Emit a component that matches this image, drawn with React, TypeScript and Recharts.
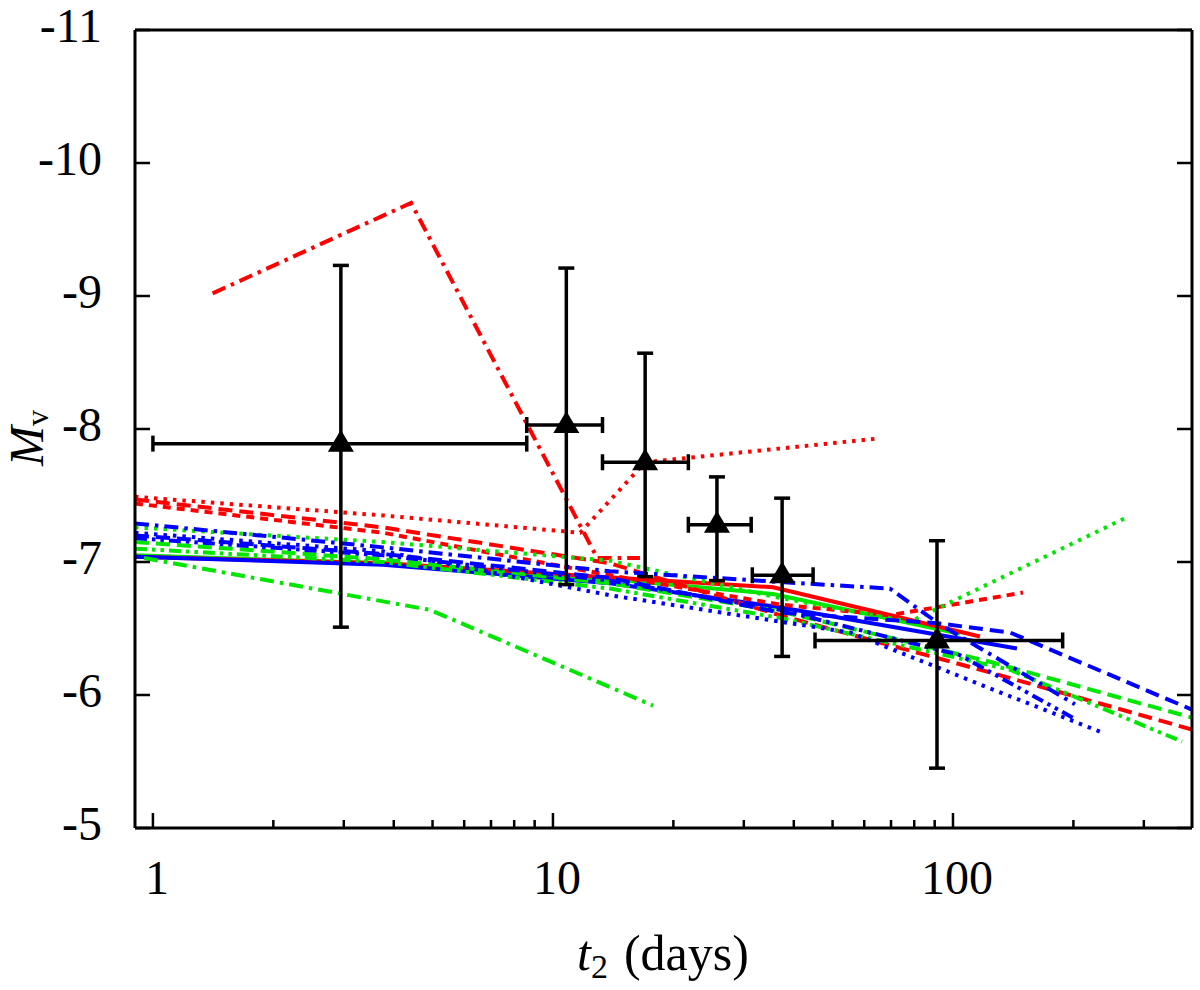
import React from 'react'
import { ComposedChart, Line, Scatter, ErrorBar, XAxis, YAxis, Label } from 'recharts'

const SERIF = '"Liberation Serif", "DejaVu Serif", serif'
const RED = '#ff0000'
const GREEN = '#00e600'
const BLUE = '#0000ff'

// axis ticks
const xMajor = [1, 10, 100]
const xTicks = [1, 2, 3, 4, 5, 6, 7, 8, 9, 10, 20, 30, 40, 50, 60, 70, 80, 90, 100, 200, 300]
const yTicks = [-11, -10, -9, -8, -7, -6, -5]

// observed points: t2 (days), M_V and their ranges
const obsT2 = [2.95, 10.8, 17.0, 25.7, 37.4, 91.2]
const obsMv = [-7.89, -8.03, -7.75, -7.28, -6.9, -6.41]
const obsT2Lo = [1.0, 8.6, 13.3, 21.8, 31.5, 45.2]
const obsT2Hi = [8.6, 13.3, 21.8, 31.3, 44.7, 188]
const obsMvBright = [-9.23, -9.21, -8.57, -7.64, -7.48, -7.16]
const obsMvFaint = [-6.51, -6.83, -6.89, -6.86, -6.29, -5.45]

// model tracks [t2, M_V]
const redSolid = [[0.902, -7.04], [3.76, -6.99], [13.1, -6.89], [35.5, -6.81], [116.8, -6.44]]
const redLongDash = [[0.902, -7.47], [3.76, -7.26], [13.9, -6.99], [36.9, -6.6], [123.7, -6.17], [395.8, -5.74]]
const redShortDash = [[0.902, -7.44], [3.76, -7.22], [13.9, -6.9], [36.9, -6.68], [69.6, -6.6], [149.6, -6.77]]
const redDotted = [[0.902, -7.49], [3.76, -7.35], [11.7, -7.22], [17.0, -7.75], [65.7, -7.93]]
const redDashDot = [[1.41, -9.02], [4.42, -9.7], [12.9, -7.03], [16.5, -7.03]]

const greenSolid = [[0.902, -7.05], [3.76, -6.99], [13.9, -6.87], [35.5, -6.76], [104, -6.46]]
const greenDashed = [[0.902, -7.15], [3.76, -7.02], [13.9, -6.84], [36.9, -6.63], [123.7, -6.25], [395.8, -5.83]]
const greenDotted = [[0.902, -7.26], [3.76, -7.15], [13.9, -7.01], [36.9, -6.73], [78, -6.55], [273.8, -7.34]]
const greenDotDash = [[0.902, -7.1], [3.76, -7.0], [13.9, -6.8], [36.9, -6.58], [138.8, -6.19], [373.7, -5.65]]
const greenDashDot = [[0.95, -7.03], [4.93, -6.64], [17.8, -5.92]]

const blueSolid = [[0.902, -7.04], [3.76, -6.98], [13.9, -6.84], [36.9, -6.66], [144.5, -6.35]]
const blueLongDash = [[0.902, -7.2], [3.76, -7.06], [13.9, -6.88], [36.9, -6.62], [91.2, -6.54], [138.8, -6.47], [395.8, -5.89]]
const blueDotted = [[0.902, -7.22], [3.76, -7.08], [13.9, -6.75], [55.3, -6.47], [123.7, -6.05], [239.9, -5.71]]
const blueDashDotDot = [[0.902, -7.18], [3.76, -7.05], [13.9, -6.86], [36.9, -6.64], [104, -6.3], [201.8, -5.82]]
const blueDashDot = [[0.902, -7.29], [3.76, -7.11], [13.9, -6.93], [36.9, -6.85], [69.6, -6.8], [92.8, -6.53], [201.8, -5.93]]

const DASH = {
  solid: undefined,
  long: '14 7',
  short: '8 6',
  dot: '3.5 6',
  dashDot: '14 6 3.5 6',
  dashDotDot: '12 5 3.5 5 3.5 5',
}

const models = [
  { key: 'gs', pts: greenSolid, color: GREEN, dash: DASH.solid },
  { key: 'rs', pts: redSolid, color: RED, dash: DASH.solid },
  { key: 'bs', pts: blueSolid, color: BLUE, dash: DASH.solid },
  { key: 'rl', pts: redLongDash, color: RED, dash: DASH.long },
  { key: 'rsh', pts: redShortDash, color: RED, dash: DASH.short },
  { key: 'rd', pts: redDotted, color: RED, dash: DASH.dot },
  { key: 'rdd', pts: redDashDot, color: RED, dash: DASH.dashDot },
  { key: 'gl', pts: greenDashed, color: GREEN, dash: DASH.long },
  { key: 'gd', pts: greenDotted, color: GREEN, dash: DASH.dot },
  { key: 'gdd2', pts: greenDotDash, color: GREEN, dash: DASH.dashDotDot },
  { key: 'gdd', pts: greenDashDot, color: GREEN, dash: DASH.dashDot },
  { key: 'bl', pts: blueLongDash, color: BLUE, dash: DASH.long },
  { key: 'bd', pts: blueDotted, color: BLUE, dash: DASH.dot },
  { key: 'bddd', pts: blueDashDotDot, color: BLUE, dash: DASH.dashDotDot },
  { key: 'bdd', pts: blueDashDot, color: BLUE, dash: DASH.dashDot },
]

const observed = obsT2.map((x, i) => ({
  x,
  y: obsMv[i],
  ex: [x - obsT2Lo[i], obsT2Hi[i] - x],
  ey: [obsMv[i] - obsMvBright[i], obsMvFaint[i] - obsMv[i]],
}))

const X_DOMAIN = [0.902, 395.8]
const Y_DOMAIN = [-11, -5]
const AXIS = { stroke: '#000', strokeWidth: 3 }

function bottomTick(p: any) {
  const major = xMajor.includes(p.payload.value)
  return (
    <g>
      <line x1={p.x} y1={p.y} x2={p.x} y2={p.y - (major ? 15 : 8)} stroke="#000" strokeWidth={2.5} />
      {major && (
        <text x={p.x + 4} y={p.y + 66} textAnchor="middle" fontFamily={SERIF} fontSize={48} fill="#000">
          {p.payload.value}
        </text>
      )}
    </g>
  )
}

function topTick(p: any) {
  const major = xMajor.includes(p.payload.value)
  return <line x1={p.x} y1={p.y} x2={p.x} y2={p.y + (major ? 15 : 8)} stroke="#000" strokeWidth={2.5} />
}

function leftTick(p: any) {
  return (
    <g>
      <line x1={p.x} y1={p.y} x2={p.x + 15} y2={p.y} stroke="#000" strokeWidth={2.5} />
      <text x={p.x - 33} y={p.y + 12} textAnchor="end" fontFamily={SERIF} fontSize={48} fill="#000">
        {p.payload.value}
      </text>
    </g>
  )
}

function rightTick(p: any) {
  return <line x1={p.x} y1={p.y} x2={p.x - 15} y2={p.y} stroke="#000" strokeWidth={2.5} />
}

function triangle(p: any) {
  const { cx, cy } = p
  return <polygon points={`${cx},${cy - 14} ${cx - 13},${cy + 8} ${cx + 13},${cy + 8}`} fill="#000" />
}

export default function App() {
  return (
    <div style={{ position: 'absolute', left: 0, top: 0, width: 1200, height: 990, background: '#fff' }}>
      <ComposedChart width={1200} height={990} margin={{ top: 29, right: 7, bottom: 0, left: 0 }}>
        <XAxis
          xAxisId="b" dataKey="x" type="number" scale="log" domain={X_DOMAIN} allowDataOverflow
          ticks={xTicks} interval={0} tickSize={0} tickMargin={0} tickLine={false}
          tick={bottomTick} height={162} axisLine={AXIS}
        >
          <Label
            content={() => (
              <text x={663} y={970} textAnchor="middle" fontFamily={SERIF} fontSize={50} fill="#000">
                <tspan fontStyle="italic">t</tspan>
                <tspan fontSize={34} dy={8}>2</tspan>
                <tspan dy={-8} dx={16}>(days)</tspan>
              </text>
            )}
          />
        </XAxis>
        <XAxis
          xAxisId="t" orientation="top" type="number" scale="log" domain={X_DOMAIN} allowDataOverflow
          ticks={xTicks} interval={0} tickSize={0} tickMargin={0} tickLine={false}
          tick={topTick} height={1} axisLine={AXIS}
        />
        <YAxis
          yAxisId="l" dataKey="y" type="number" domain={Y_DOMAIN} reversed allowDataOverflow
          ticks={yTicks} interval={0} tickSize={0} tickMargin={0} tickLine={false}
          tick={leftTick} width={135} axisLine={AXIS}
        >
          <Label
            content={() => (
              <text transform="translate(43,466) rotate(-90)" fontFamily={SERIF} fontSize={48} fill="#000">
                <tspan fontStyle="italic">M</tspan>
                <tspan fontSize={32} dy={5}>v</tspan>
              </text>
            )}
          />
        </YAxis>
        <YAxis
          yAxisId="r" orientation="right" type="number" domain={Y_DOMAIN} reversed allowDataOverflow
          ticks={yTicks} interval={0} tickSize={0} tickMargin={0} tickLine={false}
          tick={rightTick} width={1} axisLine={AXIS}
        />
        {models.map((m) => (
          <Line
            key={m.key}
            xAxisId="b"
            yAxisId="l"
            data={m.pts.map(([x, y]) => ({ x, y }))}
            dataKey="y"
            type="linear"
            stroke={m.color}
            strokeWidth={4}
            strokeDasharray={m.dash}
            dot={false}
            activeDot={false}
            isAnimationActive={false}
          />
        ))}
        <Scatter
          xAxisId="b"
          yAxisId="l"
          data={observed}
          dataKey="y"
          shape={triangle}
          isAnimationActive={false}
        >
          <ErrorBar dataKey="ex" direction="x" width={8} stroke="#000" strokeWidth={3.5} />
          <ErrorBar dataKey="ey" direction="y" width={8} stroke="#000" strokeWidth={3.5} />
        </Scatter>
      </ComposedChart>
    </div>
  )
}
